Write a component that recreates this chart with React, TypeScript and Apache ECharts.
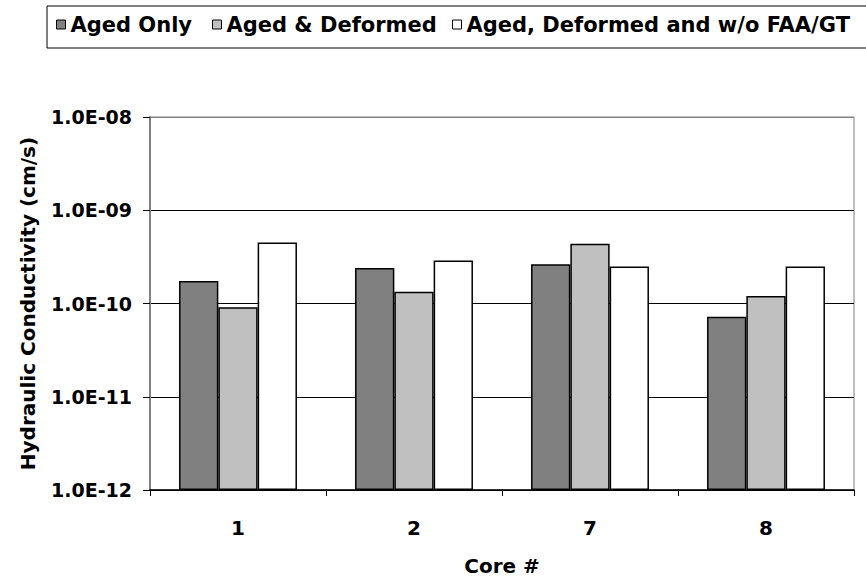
import React, { useEffect, useRef } from "react";
import * as echarts from "echarts";

const categories = ["1", "2", "7", "8"];
const seriesNames = ["Aged Only", "Aged & Deformed", "Aged, Deformed and w/o FAA/GT"];
const agedOnly = [1.74e-10, 2.4e-10, 2.63e-10, 7.2e-11];
const agedDeformed = [9.1e-11, 1.34e-10, 4.38e-10, 1.2e-10];
const agedDeformedNoFAA = [4.5e-10, 2.9e-10, 2.5e-10, 2.5e-10];
const seriesColors = ["#808080", "#C0C0C0", "#FFFFFF"];
const yMin = 1e-12;
const yMax = 1e-8;

const FONT = "DejaVu Sans";

function fmt(v: number): string {
  const e = Math.round(Math.log10(v));
  return "1.0E" + (e < 0 ? "-" : "+") + String(Math.abs(e)).padStart(2, "0");
}

export default function App() {
  const ref = useRef<HTMLDivElement>(null);
  useEffect(() => {
    document.body.style.margin = "0";
    if (!ref.current) return;
    const chart = echarts.init(ref.current, undefined, { renderer: "svg" });
    const values = [agedOnly, agedDeformed, agedDeformedNoFAA];
    const legendLefts = [56, 212, 452];
    chart.setOption({
      animation: false,
      backgroundColor: "#ffffff",
      textStyle: { fontFamily: FONT },
      graphic: [
        {
          type: "rect",
          shape: { x: 47, y: 6, width: 900, height: 42 },
          style: { fill: "none", stroke: "#000", lineWidth: 1 },
          silent: true,
        },
      ],
      legend: seriesNames.map((n, i) => ({
        data: [n],
        left: legendLefts[i],
        top: 14,
        padding: 0,
        itemWidth: 9,
        itemHeight: 9,
        icon: "rect",
        itemStyle: { borderColor: "#000", borderWidth: 1 },
        textStyle: { fontFamily: FONT, fontWeight: "bold", fontSize: 21, color: "#000" },
        selectedMode: false,
      })),
      grid: {
        left: 150,
        right: 12,
        top: 117,
        bottom: 91,
        show: true,
        borderColor: "#808080",
        borderWidth: 1,
        backgroundColor: "#fff",
      },
      xAxis: {
        type: "category",
        data: categories,
        name: "Core #",
        nameLocation: "middle",
        nameGap: 66,
        nameTextStyle: { fontFamily: FONT, fontWeight: "bold", fontSize: 20, color: "#000" },
        axisLine: { lineStyle: { color: "#000", width: 1.5 } },
        axisTick: { show: true, length: 6, lineStyle: { color: "#000" } },
        axisLabel: { margin: 28, fontFamily: FONT, fontWeight: "bold", fontSize: 20, color: "#000" },
      },
      yAxis: {
        type: "log",
        logBase: 10,
        min: yMin,
        max: yMax,
        startValue: yMin,
        interval: 1,
        name: "Hydraulic Conductivity (cm/s)",
        nameLocation: "middle",
        nameGap: 112,
        nameTextStyle: { fontFamily: FONT, fontWeight: "bold", fontSize: 20, color: "#000" },
        axisLine: { show: true, lineStyle: { color: "#808080", width: 2 } },
        axisTick: { show: true, length: 7, lineStyle: { color: "#000" } },
        axisLabel: {
          margin: 18,
          formatter: fmt,
          fontFamily: FONT,
          fontWeight: "bold",
          fontSize: 19,
          color: "#000",
        },
        splitLine: {
          show: true,
          lineStyle: { color: ["#000", "#000", "#000", "#000", "#808080"], width: 1 },
        },
      },
      series: seriesNames.map((n, i) => ({
        name: n,
        type: "bar",
        data: values[i],
        barGap: "0%",
        barCategoryGap: "33%",
        itemStyle: { color: seriesColors[i], borderColor: "#000", borderWidth: 1.5 },
      })),
    });
    return () => chart.dispose();
  }, []);
  return <div ref={ref} style={{ width: 866, height: 581 }} />;
}
